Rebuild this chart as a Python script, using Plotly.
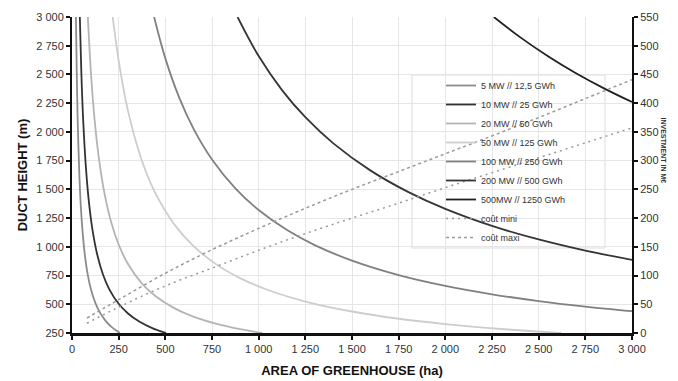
import plotly.graph_objects as go

# ---- data ----
x_ticks = [0, 250, 500, 750, 1000, 1250, 1500, 1750, 2000, 2250, 2500, 2750, 3000]
x_ticktext = ["0", "250", "500", "750", "1 000", "1 250", "1 500", "1 750", "2 000", "2 250", "2 500", "2 750", "3 000"]
y_ticks = [250, 500, 750, 1000, 1250, 1500, 1750, 2000, 2250, 2500, 2750, 3000]
y_ticktext = ["250", "500", "750", "1 000", "1 250", "1 500", "1 750", "2 000", "2 250", "2 500", "2 750", "3 000"]
y2_ticks = [0, 50, 100, 150, 200, 250, 300, 350, 400, 450, 500, 550]

area_5mw = [21, 25, 30, 40, 50, 65, 80, 100, 125, 150, 180, 210, 256]
height_5mw = [3000, 2560, 2130, 1600, 1280, 985, 800, 640, 512, 427, 356, 305, 250]

area_10mw = [42, 50, 60, 75, 90, 110, 135, 165, 200, 250, 300, 360, 430, 504]
height_10mw = [3000, 2520, 2100, 1680, 1400, 1145, 933, 764, 630, 504, 420, 350, 293, 250]

area_20mw = [85, 100, 120, 145, 175, 210, 250, 300, 375, 450, 550, 650, 775, 900, 1020]
height_20mw = [3000, 2550, 2125, 1759, 1457, 1214, 1020, 850, 680, 567, 464, 392, 329, 283, 250]

area_50mw = [218, 250, 300, 375, 450, 550, 650, 775, 900, 1050, 1250, 1500, 1750, 2000, 2300, 2620]
height_50mw = [3000, 2620, 2183, 1747, 1456, 1191, 1008, 845, 728, 624, 524, 437, 374, 328, 285, 250]

area_100mw = [440, 500, 575, 650, 750, 875, 1000, 1150, 1300, 1500, 1750, 2000, 2250, 2500, 2750, 3000]
height_100mw = [3000, 2640, 2296, 2031, 1760, 1509, 1320, 1148, 1015, 880, 754, 660, 587, 528, 480, 440]

area_200mw = [887, 1000, 1125, 1250, 1400, 1600, 1800, 2000, 2250, 2500, 2750, 3000]
height_200mw = [3000, 2660, 2364, 2128, 1900, 1663, 1478, 1330, 1182, 1064, 967, 887]

area_500mw = [2260, 2400, 2550, 2700, 2850, 3000]
height_500mw = [3000, 2825, 2659, 2511, 2379, 2260]

area_cost = [80, 250, 500, 750, 1000, 1250, 1500, 1750, 2000, 2250, 2500, 2750, 3000]
cost_mini = [17, 45, 82, 113, 144, 173, 200, 226, 253, 279, 305, 331, 357]
cost_maxi = [26, 58, 104, 145, 182, 217, 250, 281, 312, 343, 375, 408, 441]

series = [
    ("5 MW // 12,5 GWh", area_5mw, height_5mw, "#8c8c8c"),
    ("10 MW // 25 GWh", area_10mw, height_10mw, "#333333"),
    ("20 MW // 50 GWh", area_20mw, height_20mw, "#b4b4b4"),
    ("50 MW // 125 GWh", area_50mw, height_50mw, "#cdcdcd"),
    ("100 MW // 250 GWh", area_100mw, height_100mw, "#808080"),
    ("200 MW // 500 GWh", area_200mw, height_200mw, "#353535"),
    ("500MW // 1250 GWh", area_500mw, height_500mw, "#202020"),
]

FONT = "Arial, Liberation Sans, sans-serif"

fig = go.Figure()
for i, (name, xs, ys, col) in enumerate(series):
    fig.add_trace(go.Scatter(
        x=xs, y=ys, name=name, mode="lines",
        line=dict(color=col, width=1.8, shape="spline", smoothing=1.0),
        legendgroup=f"g{i}", yaxis="y",
    ))

fig.add_trace(go.Scatter(
    x=area_cost, y=cost_mini, name="coût mini", mode="lines",
    line=dict(color="#9a9a9a", width=1.5, dash="2px,4px", shape="spline"),
    legendgroup="g7", yaxis="y2",
))
fig.add_trace(go.Scatter(
    x=area_cost, y=cost_maxi, name="coût maxi", mode="lines",
    line=dict(color="#9a9a9a", width=1.5, dash="3px,3px", shape="spline"),
    legendgroup="g8", yaxis="y2",
))

# page body adds an 8px offset; figure sized to fit the 678x381 window
OFF = 8
W, H = 670, 373
L, R, T, B = 64, 46, 9, 48
pw, ph = W - L - R, H - T - B

def px_x(x):  # screen px -> paper
    return (x - OFF - L) / pw

def px_y(y):
    return (H - B - (y - OFF)) / ph

fig.update_layout(
    width=W, height=H,
    margin=dict(l=L, r=R, t=T, b=B, autoexpand=False),
    paper_bgcolor="white", plot_bgcolor="white",
    font=dict(family=FONT, size=11, color="#333333"),
    showlegend=True,
    legend=dict(
        x=px_x(441), y=px_y(71), xanchor="left", yanchor="top",
        bgcolor="rgba(0,0,0,0)", borderwidth=0,
        font=dict(size=9, color="#333333", family=FONT),
        tracegroupgap=0, itemwidth=30,
    ),
    xaxis=dict(
        range=[0, 3000], tickvals=x_ticks, ticktext=x_ticktext, automargin=False,
        showgrid=True, gridcolor="#e6e6e6", gridwidth=1,
        showline=True, linecolor="#111111", linewidth=3,
        ticks="outside", ticklen=4, tickcolor="#111111", tickwidth=1.5,
        zeroline=False,
        title=dict(text="<b>AREA OF GREENHOUSE (ha)</b>", font=dict(size=13, color="#111111"), standoff=12),
        tickfont=dict(size=11, color="#333333"),
    ),
    yaxis=dict(
        range=[250, 3000], tickvals=y_ticks, ticktext=y_ticktext, automargin=False,
        showgrid=True, gridcolor="#e6e6e6", gridwidth=1,
        showline=True, linecolor="#111111", linewidth=2,
        ticks="outside", ticklen=4, tickcolor="#111111", tickwidth=1.5,
        zeroline=False,
        title=dict(text="<b>DUCT HEIGHT (m)</b>", font=dict(size=13, color="#111111"), standoff=6),
        tickfont=dict(size=11, color="#333333"),
    ),
    yaxis2=dict(
        range=[0, 550], tickvals=y2_ticks, overlaying="y", side="right", automargin=False,
        showgrid=False, showline=True, linecolor="#111111", linewidth=2,
        ticks="outside", ticklen=4, tickcolor="#111111", tickwidth=1.5,
        zeroline=False, tickfont=dict(size=11, color="#333333"),
    ),
    shapes=[dict(
        type="rect", xref="paper", yref="paper",
        x0=px_x(412), x1=px_x(605), y0=px_y(248), y1=px_y(75),
        line=dict(color="#dddddd", width=1), fillcolor="white", layer="below",
    )],
    annotations=[dict(
        text="<b>INVESTMENT IN M€</b>", xref="paper", yref="paper",
        x=px_x(669), y=px_y(150), showarrow=False, textangle=90,
        font=dict(size=7, color="#333333"),
    )],
)

fig.write_html("out.html")
